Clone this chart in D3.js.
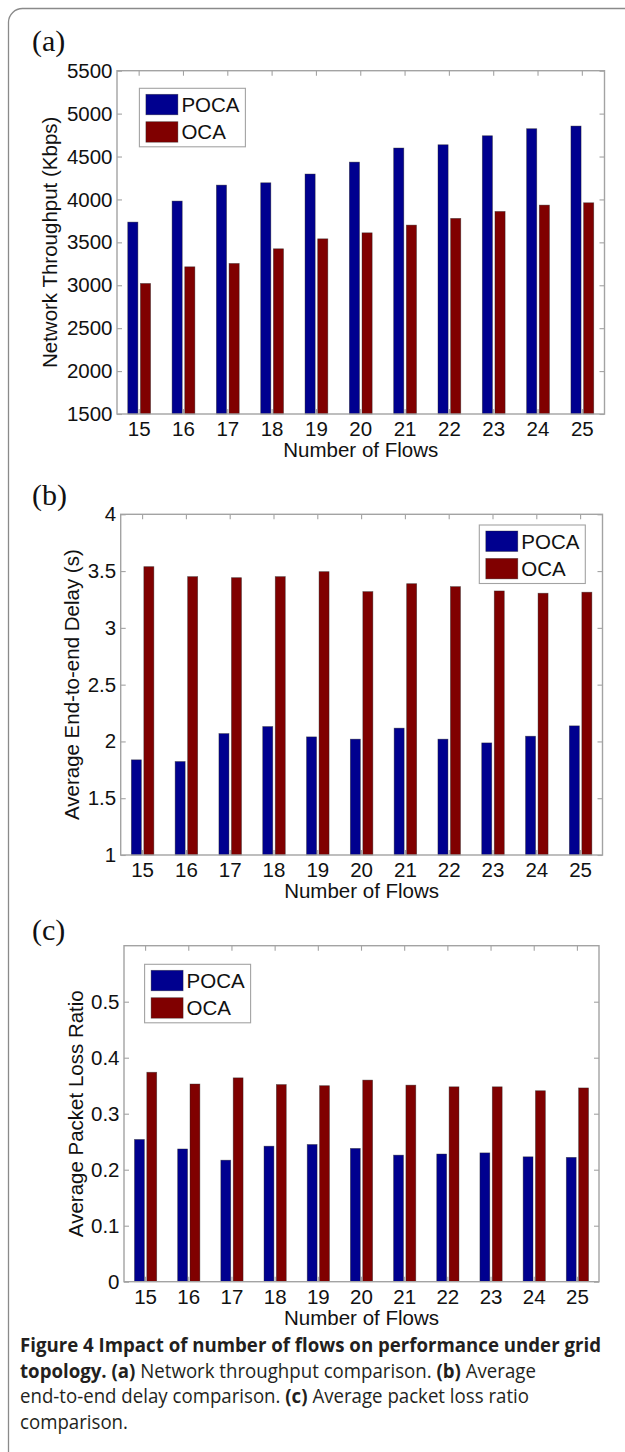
<!DOCTYPE html>
<html><head><meta charset="utf-8">
<script src="https://cdn.jsdelivr.net/npm/d3@7"></script>
<style>html,body{margin:0;padding:0;background:#fff;} svg{display:block;}</style>
</head><body><svg id="chart" width="625" height="1452"></svg>
<script>
// ---------- data ----------
const categories = [15, 16, 17, 18, 19, 20, 21, 22, 23, 24, 25];
const seriesNames = ["POCA", "OCA"];
const throughputPOCA = [3736, 3981, 4167, 4194, 4296, 4435, 4599, 4637, 4742, 4824, 4855];
const throughputOCA  = [3021, 3215, 3254, 3425, 3541, 3611, 3701, 3779, 3860, 3934, 3961];
const delayPOCA = [1.838, 1.823, 2.069, 2.131, 2.040, 2.020, 2.117, 2.020, 1.987, 2.046, 2.137];
const delayOCA  = [3.539, 3.451, 3.442, 3.451, 3.495, 3.319, 3.389, 3.363, 3.325, 3.305, 3.314];
const lossPOCA = [0.254, 0.237, 0.217, 0.242, 0.245, 0.238, 0.226, 0.228, 0.230, 0.223, 0.222];
const lossOCA  = [0.374, 0.353, 0.364, 0.352, 0.350, 0.360, 0.351, 0.348, 0.348, 0.341, 0.346];
const throughputTicks = [1500, 2000, 2500, 3000, 3500, 4000, 4500, 5000, 5500];
const delayTicks = [1, 1.5, 2, 2.5, 3, 3.5, 4];
const lossTicks = [0, 0.1, 0.2, 0.3, 0.4, 0.5];
const throughputDomain = [1500, 5500];
const delayDomain = [1, 4];
const lossDomain = [0, 0.6];
const panelLabels = ["(a)", "(b)", "(c)"];
const yTitles = ["Network Throughput (Kbps)", "Average End-to-end Delay (s)", "Average Packet Loss Ratio"];
const xTitle = "Number of Flows";
const captionLines = [
  [["b", "Figure 4 Impact of number of flows on performance under grid"]],
  [["b", "topology. (a)"], ["n", " Network throughput comparison. "], ["b", "(b)"], ["n", " Average"]],
  [["n", "end-to-end delay comparison. "], ["b", "(c)"], ["n", " Average packet loss ratio"]],
  [["n", "comparison."]]
];
const seriesColors = {POCA: "#00008f", OCA: "#800000"};

// ---------- layout ----------
const panels = [
  {label: panelLabels[0], title: yTitles[0], a: throughputPOCA, b: throughputOCA, ticks: throughputTicks, domain: throughputDomain,
   left: 117, right: 604.5, top: 70.7, bottom: 414, labelY: 51, titleX: 57, legend: [139.4, 88.3]},
  {label: panelLabels[1], title: yTitles[1], a: delayPOCA, b: delayOCA, ticks: delayTicks, domain: delayDomain,
   left: 120.7, right: 602.5, top: 514.3, bottom: 855, labelY: 505, titleX: 79, legend: [479.3, 525]},
  {label: panelLabels[2], title: yTitles[2], a: lossPOCA, b: lossOCA, ticks: lossTicks, domain: lossDomain,
   left: 124, right: 599, top: 945.7, bottom: 1281.7, labelY: 940, titleX: 83, legend: [144.6, 964.3]}
];
const FONT = "'Liberation Sans', Arial, Helvetica, sans-serif";
const FS = 20.5;
const AXIS = "#a3a3a3";

const svg = d3.select("#chart");
svg.append("rect").attr("width", 625).attr("height", 1452).attr("fill", "#fff");

// outer frame
svg.append("path")
  .attr("d", "M8.5,1452 V22 A14,14 0 0 1 22.5,8.5 H625")
  .attr("fill", "none").attr("stroke", "#8a8a8a").attr("stroke-width", 1.3);

panels.forEach(p => {
  const g = svg.append("g");
  const x = d3.scaleBand().domain(categories).range([p.left, p.right]).padding(0);
  const bw = x.bandwidth();
  const xs = d3.scaleBand().domain(seriesNames).range([-0.2857 * bw, 0.2857 * bw]).paddingInner(0.2).paddingOuter(0.1);
  const y = d3.scaleLinear().domain(p.domain).range([p.bottom, p.top]);

  // bars
  const rows = categories.map((c, i) => ({c, vals: [{s: "POCA", v: p.a[i]}, {s: "OCA", v: p.b[i]}]}));
  const grp = g.selectAll("g.grp").data(rows).join("g").attr("class", "grp")
    .attr("transform", d => `translate(${x(d.c) + bw / 2},0)`);
  grp.selectAll("rect").data(d => d.vals).join("rect")
    .attr("x", d => xs(d.s)).attr("width", xs.bandwidth())
    .attr("y", d => y(d.v)).attr("height", d => y(p.domain[0]) - y(d.v))
    .attr("fill", d => seriesColors[d.s]).attr("stroke", "#202020").attr("stroke-opacity", 0.55).attr("stroke-width", 0.7);

  // axes
  const fmt = d => String(d);
  const yl = g.append("g").attr("transform", `translate(${p.left},0)`)
    .call(d3.axisLeft(y).tickValues(p.ticks).tickFormat(fmt).tickSizeInner(-5).tickSizeOuter(0).tickPadding(4.5));
  const yr = g.append("g").attr("transform", `translate(${p.right},0)`)
    .call(d3.axisRight(y).tickValues(p.ticks).tickFormat("").tickSizeInner(-5).tickSizeOuter(0));
  const xb = g.append("g").attr("transform", `translate(0,${p.bottom})`)
    .call(d3.axisBottom(x).tickFormat(fmt).tickSizeInner(-5).tickSizeOuter(0).tickPadding(7.5));
  const xt = g.append("g").attr("transform", `translate(0,${p.top})`)
    .call(d3.axisTop(x).tickFormat("").tickSizeInner(-5).tickSizeOuter(0));
  [yl, yr, xb, xt].forEach(a => {
    a.select(".domain").remove();
    a.selectAll(".tick line").attr("stroke", AXIS).attr("stroke-width", 1.1);
    a.selectAll("text").attr("font-family", FONT).attr("font-size", FS).attr("fill", "#111");
  });
  // box
  g.append("rect").attr("x", p.left).attr("y", p.top).attr("width", p.right - p.left).attr("height", p.bottom - p.top)
    .attr("fill", "none").attr("stroke", AXIS).attr("stroke-width", 1.4);

  // titles
  g.append("text").attr("x", (p.left + p.right) / 2).attr("y", p.bottom + 43)
    .attr("text-anchor", "middle").attr("font-family", FONT).attr("font-size", FS).attr("fill", "#111").text(xTitle);
  g.append("text").attr("transform", `translate(${p.titleX},${(p.top + p.bottom) / 2}) rotate(-90)`)
    .attr("text-anchor", "middle").attr("font-family", FONT).attr("font-size", FS).attr("fill", "#111").text(p.title);
  g.append("text").attr("x", 32).attr("y", p.labelY)
    .attr("font-family", "'Liberation Serif', 'Times New Roman', serif").attr("font-size", 30).attr("fill", "#111").text(p.label);

  // legend
  const lg = g.append("g").attr("transform", `translate(${p.legend[0]},${p.legend[1]})`);
  lg.append("rect").attr("width", 106).attr("height", 58.5).attr("fill", "#fff").attr("stroke", AXIS).attr("stroke-width", 1.1);
  const items = lg.selectAll("g.item").data(seriesNames).join("g").attr("class", "item")
    .attr("transform", (d, i) => `translate(6.5,${6 + i * 27.4})`);
  items.append("rect").attr("width", 32).attr("height", 20.5).attr("fill", d => seriesColors[d])
    .attr("stroke", "#202020").attr("stroke-opacity", 0.5).attr("stroke-width", 0.7);
  items.append("text").attr("x", 35.5).attr("y", 17.5).attr("font-family", FONT).attr("font-size", FS).attr("fill", "#111").text(d => d);
});

// caption
const capFont = "'Open Sans', 'Noto Sans', sans-serif";
const capG = svg.append("g");
const capTexts = captionLines.map((line, i) => {
  const t = capG.append("text").attr("x", 0).attr("y", 0)
    .attr("font-family", capFont).attr("font-size", 19.5).attr("fill", "#231f20");
  line.forEach(([w, s]) => t.append("tspan").attr("font-weight", w === "b" ? 700 : 400).text(s));
  return t;
});
const w0 = capTexts[0].node().getComputedTextLength();
const sx = 581 / w0;
capTexts.forEach((t, i) => t.attr("transform", `translate(20,${1352 + i * 25.5}) scale(${sx},1)`));
</script></body></html>
